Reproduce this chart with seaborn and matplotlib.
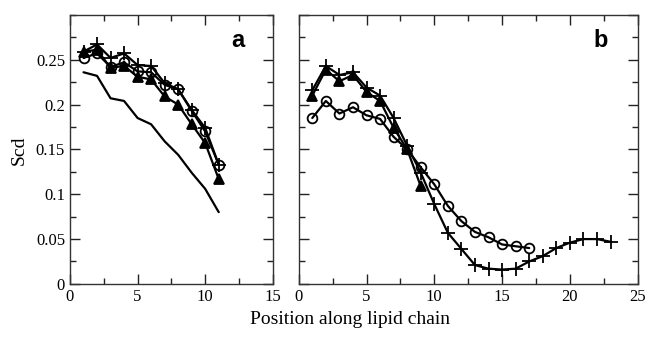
import numpy as np
import pandas as pd
import seaborn as sns
import matplotlib.pyplot as plt
from matplotlib.ticker import MultipleLocator

sns.set_theme(style="ticks")
plt.rcParams['font.family'] = ['Liberation Serif', 'DejaVu Serif']
plt.rcParams['text.color'] = 'black'

# panel a
pos_a = list(range(1, 12))
a_line = [0.236, 0.232, 0.207, 0.204, 0.185, 0.178, 0.159, 0.144, 0.124, 0.106, 0.080]
a_circ = [0.252, 0.257, 0.242, 0.247, 0.237, 0.236, 0.222, 0.217, 0.193, 0.170, 0.133]
a_plus = [0.259, 0.267, 0.252, 0.257, 0.244, 0.243, 0.224, 0.217, 0.194, 0.174, 0.133]
a_tri = [0.259, 0.261, 0.241, 0.243, 0.231, 0.228, 0.209, 0.200, 0.178, 0.157, 0.117]

# panel b
pos_b_circ = list(range(1, 18))
b_circ = [0.185, 0.204, 0.190, 0.197, 0.188, 0.184, 0.164, 0.150, 0.130, 0.111,
          0.087, 0.070, 0.058, 0.052, 0.044, 0.042, 0.040]
pos_b_plus = list(range(1, 24))
b_plus = [0.216, 0.243, 0.233, 0.236, 0.219, 0.210, 0.185, 0.154, 0.124, 0.089,
          0.057, 0.039, 0.021, 0.017, 0.016, 0.017, 0.025, 0.031, 0.040, 0.046,
          0.050, 0.050, 0.047]
pos_b_tri = list(range(1, 10))
b_tri = [0.210, 0.239, 0.226, 0.233, 0.214, 0.204, 0.174, 0.150, 0.109]

fig = plt.figure(figsize=(6.48, 3.38), dpi=100)
ax1 = fig.add_axes([0.108, 0.160, 0.313, 0.796])
ax2 = fig.add_axes([0.461, 0.160, 0.523, 0.796])

lw = 1.6
def draw(ax, x, y, marker, ms, mfc="none"):
    sns.lineplot(x=x, y=y, ax=ax, color="black", lw=lw, marker=marker,
                 markersize=ms, markerfacecolor=mfc, markeredgecolor="black",
                 markeredgewidth=1.3)

draw(ax1, pos_a, a_line, None, 0)
draw(ax1, pos_a, a_tri, "^", 7, "black")
draw(ax1, pos_a, a_circ, "o", 7)
draw(ax1, pos_a, a_plus, "+", 10)

draw(ax2, pos_b_tri, b_tri, "^", 7, "black")
draw(ax2, pos_b_circ, b_circ, "o", 7)
draw(ax2, pos_b_plus, b_plus, "+", 10)

for ax, xmax in [(ax1, 15), (ax2, 25)]:
    ax.set_xlim(0, xmax)
    ax.set_ylim(0, 0.3)
    ax.xaxis.set_major_locator(MultipleLocator(5))
    ax.xaxis.set_minor_locator(MultipleLocator(2.5))
    ax.yaxis.set_major_locator(MultipleLocator(0.05))
    ax.yaxis.set_minor_locator(MultipleLocator(0.025))
    ax.tick_params(which="both", direction="in", top=True, right=True,
                   labelsize=12, colors="#222222", labelcolor="black")
    ax.tick_params(which="major", length=7, width=1)
    ax.tick_params(which="minor", length=4, width=1)
    for s in ax.spines.values():
        s.set_linewidth(1)
        s.set_color("#333333")
    ax.set_xlabel("")
    ax.set_ylabel("")

ax1.set_yticks([0, 0.05, 0.1, 0.15, 0.2, 0.25])
ax1.set_yticklabels(["0", "0.05", "0.1", "0.15", "0.2", "0.25"])
ax1.set_xticks([0, 5, 10, 15])
ax1.set_xticklabels(["0", "5", "10", "15"])
ax2.set_xticks([0, 5, 10, 15, 20, 25])
ax2.set_xticklabels(["0", "5", "10", "15", "20", "25"])
ax2.tick_params(labelleft=False)

fig.text(19 / 648, 1 - 150 / 338, "Scd", rotation=90, ha="center", va="center",
         fontsize=14, color="black")
fig.text(0.54, 0.055, "Position along lipid chain", ha="center", va="center",
         fontsize=14, color="black")

ax1.text(0.862, 0.881, "a", transform=ax1.transAxes, ha="right", va="baseline",
         fontsize=17, fontweight="bold", family=["Liberation Sans"], color="black")
ax2.text(0.912, 0.881, "b", transform=ax2.transAxes, ha="right", va="baseline",
         fontsize=17, fontweight="bold", family=["Liberation Sans"], color="black")

fig.savefig("out.png", dpi=100)
